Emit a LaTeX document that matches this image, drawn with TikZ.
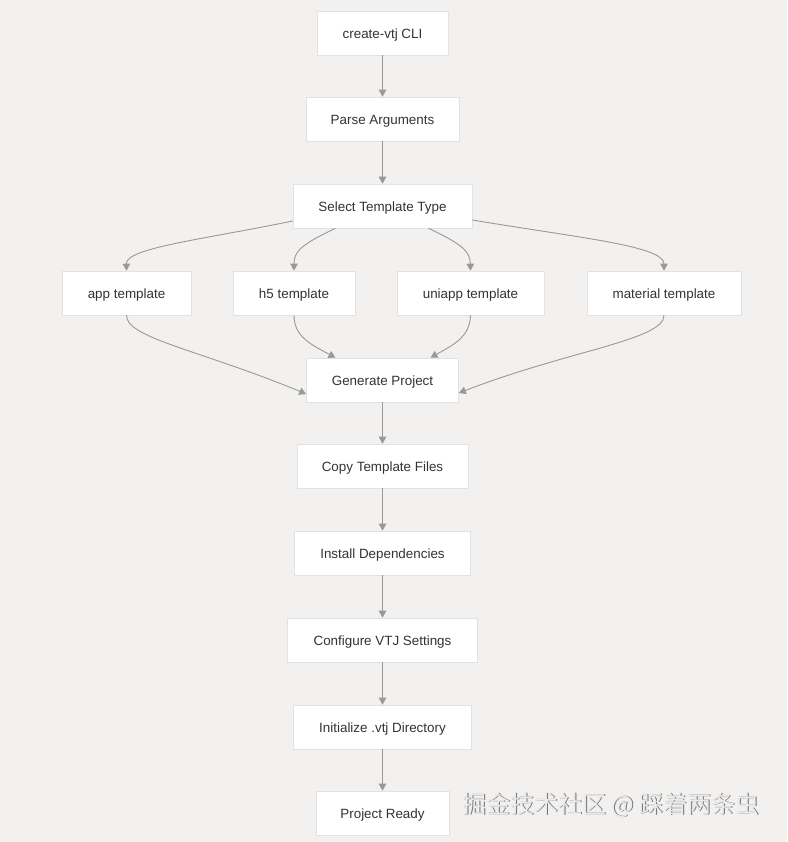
\documentclass[tikz,border=0pt]{standalone}
\usepackage{fontspec}
\setmainfont{Liberation Sans}
\newfontfamily\cjk{Noto Sans CJK SC}
\usetikzlibrary{arrows.meta}
\definecolor{bg}{HTML}{F2F1F0}
\definecolor{boxline}{HTML}{E2E2E2}
\definecolor{edge}{HTML}{999999}
\definecolor{txt}{HTML}{333333}
\tikzset{
  box/.style={draw=boxline, line width=0.6pt, fill=white, minimum height=44pt, inner sep=0pt, text height=13.5pt, text depth=2.5pt, font=\fontsize{13.4}{15}\selectfont, text=txt, anchor=center},
  conn/.style={draw=edge, line width=0.9pt, -{Triangle[length=7pt,width=7.5pt]}},
}
\begin{document}
\begin{tikzpicture}[x=1pt,y=-1pt]
\fill[bg] (0,0) rectangle (787,842);
\useasboundingbox (0,0) rectangle (787,842);

\node[box, minimum width=131pt] (cli) at (382.5,33) {create-vtj CLI};
\node[box, minimum width=153pt] (parse) at (382.5,119) {Parse Arguments};
\node[box, minimum width=179pt] (sel) at (382.5,206) {Select Template Type};
\node[box, minimum width=129pt] (app) at (126.5,293) {app template};
\node[box, minimum width=122pt] (h5) at (294,293) {h5 template};
\node[box, minimum width=147pt] (uni) at (470.5,293) {uniapp template};
\node[box, minimum width=154pt] (mat) at (664,293) {material template};
\node[box, minimum width=152pt] (gen) at (382.5,380) {Generate Project};
\node[box, minimum width=171pt] (copy) at (382.5,466) {Copy Template Files};
\node[box, minimum width=176pt] (inst) at (382.5,553) {Install Dependencies};
\node[box, minimum width=190pt] (conf) at (382.5,640) {Configure VTJ Settings};
\node[box, minimum width=178pt] (init) at (382.5,727) {Initialize .vtj Directory};
\node[box, minimum width=133pt] (ready) at (382.5,813) {Project Ready};

\path[conn] (cli) -- (parse);
\path[conn] (parse) -- (sel);

\path[conn] ([yshift=-15pt]sel.west) .. controls (200,240) and (126,248) .. (app.north);
\path[conn] ([xshift=-47pt]sel.south) .. controls (300,245) and (294,252) .. (h5.north);
\path[conn] ([xshift=46pt]sel.south) .. controls (464,245) and (470,252) .. (uni.north);
\path[conn] ([yshift=-14pt]sel.east) .. controls (580,238) and (664,246) .. (mat.north);

\path[conn] (app.south) .. controls (126,338) and (200,350) .. ([yshift=-14pt]gen.west);
\path[conn] (h5.south) .. controls (294,337) and (312,345) .. ([xshift=-47pt]gen.north);
\path[conn] (uni.south) .. controls (470,337) and (453,345) .. ([xshift=48pt]gen.north);
\path[conn] (mat.south) .. controls (664,340) and (570,350) .. ([yshift=-13pt]gen.east);

\path[conn] (gen) -- (copy);
\path[conn] (copy) -- (inst);
\path[conn] (inst) -- (conf);
\path[conn] (conf) -- (init);
\path[conn] (init) -- (ready);

\node[font=\cjk\fontsize{24}{26}\selectfont, text=black!55, anchor=center] (wmshadow) at (612,805.8) {掘金技术社区 @ 踩着两条虫};
\node[font=\cjk\fontsize{24}{26}\selectfont, text=black!8, anchor=center] (wm) at (611,805) {掘金技术社区 @ 踩着两条虫};
\end{tikzpicture}
\end{document}
